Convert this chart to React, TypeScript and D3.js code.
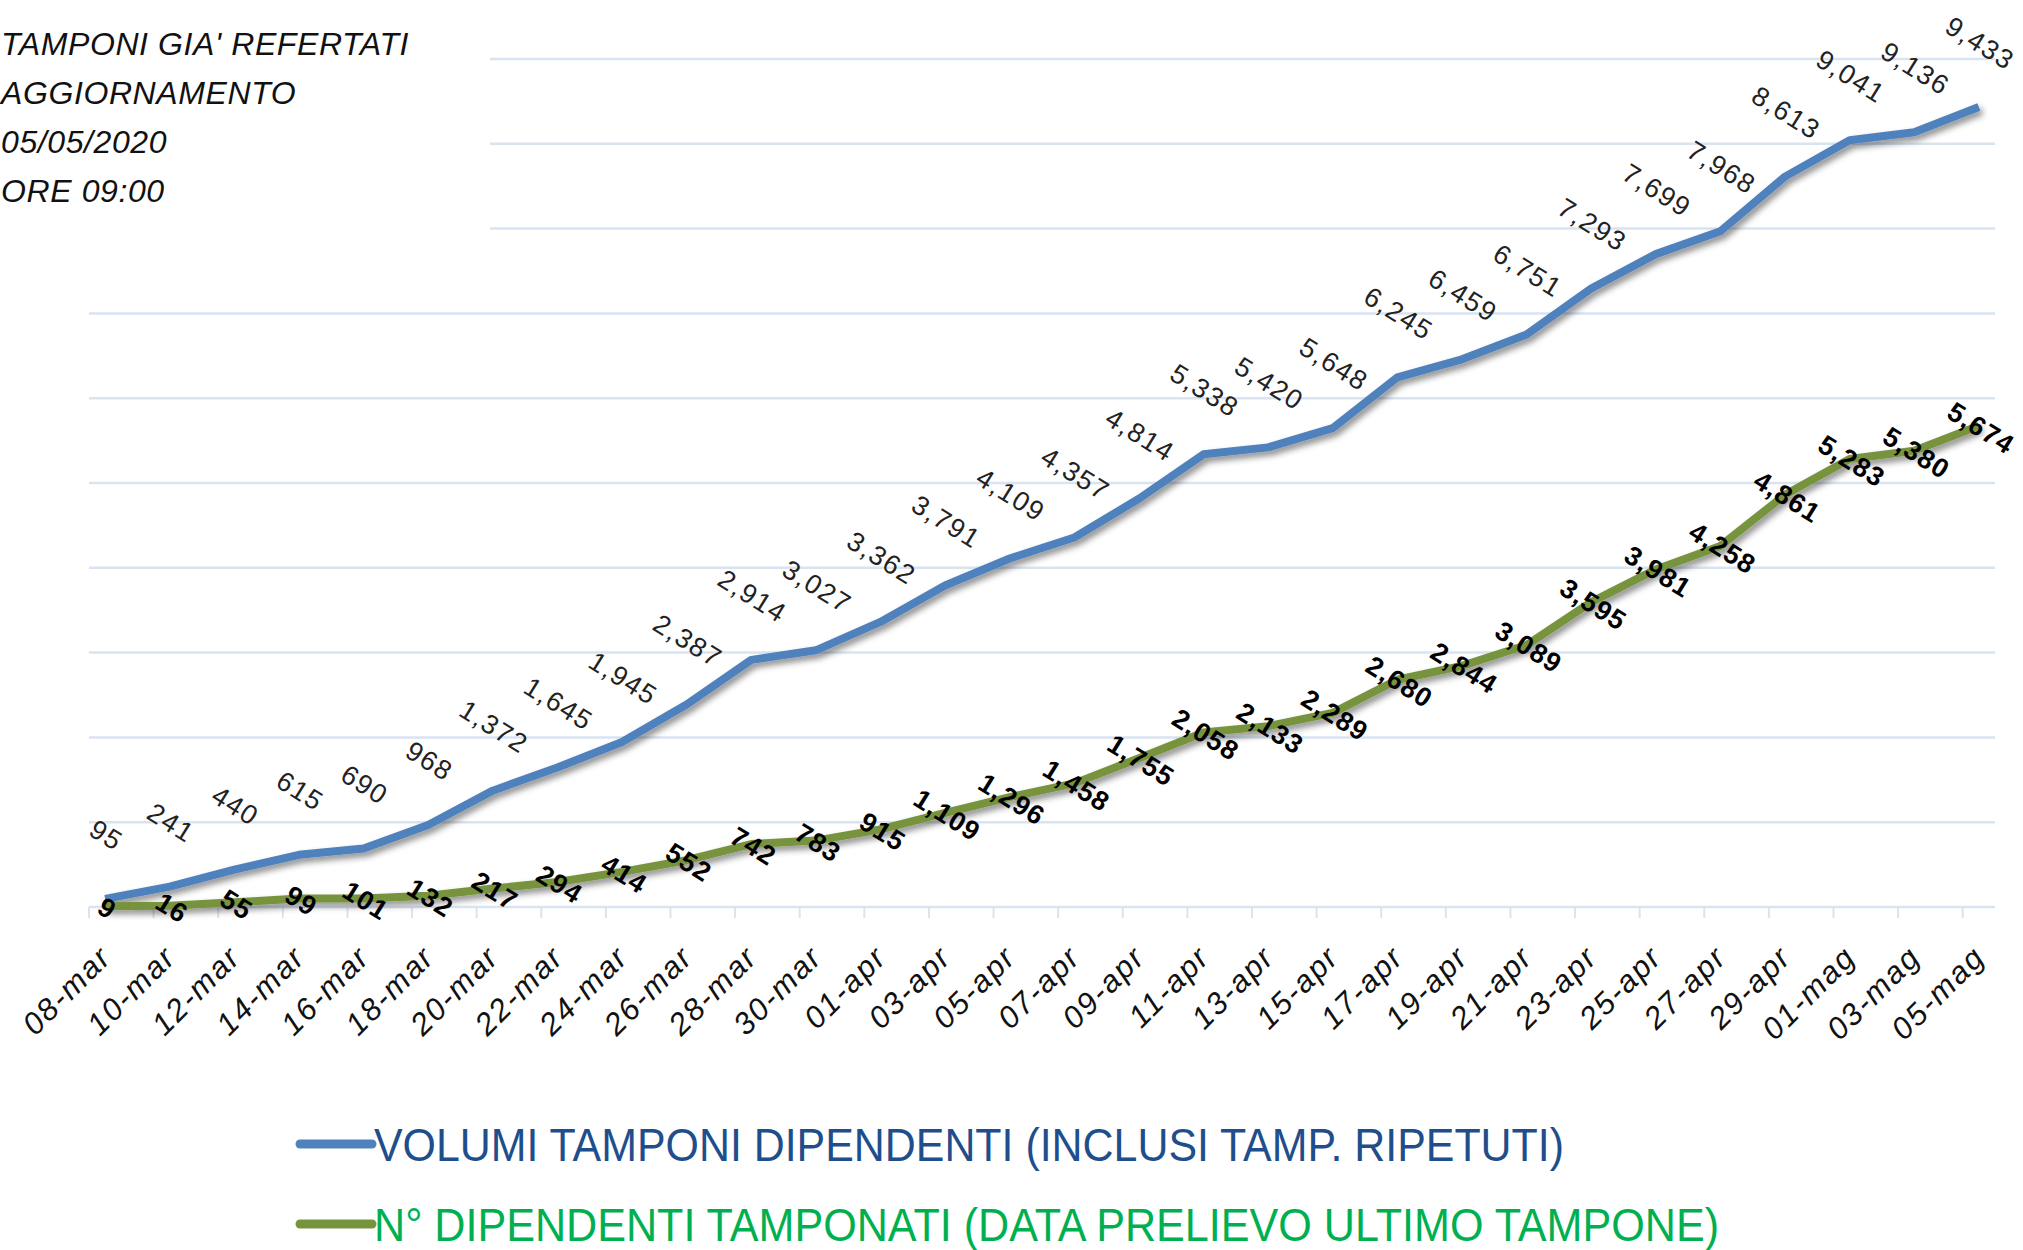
import React from "react";
import * as d3 from "d3";

// tick labels on the x axis (one every 2 days)
const dateLabels = [
  "08-mar", "10-mar", "12-mar", "14-mar", "16-mar", "18-mar", "20-mar", "22-mar",
  "24-mar", "26-mar", "28-mar", "30-mar", "01-apr", "03-apr", "05-apr", "07-apr",
  "09-apr", "11-apr", "13-apr", "15-apr", "17-apr", "19-apr", "21-apr", "23-apr",
  "25-apr", "27-apr", "29-apr", "01-mag", "03-mag", "05-mag",
];

// VOLUMI TAMPONI DIPENDENTI (INCLUSI TAMP. RIPETUTI)
const volumiTamponi = [
  95, 241, 440, 615, 690, 968, 1372, 1645, 1945, 2387, 2914, 3027, 3362, 3791, 4109,
  4357, 4814, 5338, 5420, 5648, 6245, 6459, 6751, 7293, 7699, 7968, 8613, 9041, 9136, 9433,
];

// N° DIPENDENTI TAMPONATI (DATA PRELIEVO ULTIMO TAMPONE)
const dipendentiTamponati = [
  9, 16, 55, 99, 101, 132, 217, 294, 414, 552, 742, 783, 915, 1109, 1296,
  1458, 1755, 2058, 2133, 2289, 2680, 2844, 3089, 3595, 3981, 4258, 4861, 5283, 5380, 5674,
];

const gridValues = [0, 1000, 2000, 3000, 4000, 5000, 6000, 7000, 8000, 9000, 10000];
const titleLines = ["TAMPONI GIA' REFERTATI", "AGGIORNAMENTO", "05/05/2020", "ORE 09:00"];
const legendLabels = [
  "VOLUMI TAMPONI DIPENDENTI (INCLUSI TAMP. RIPETUTI)",
  "N° DIPENDENTI TAMPONATI (DATA PRELIEVO ULTIMO TAMPONE)",
];

const W = 2023;
const H = 1250;
const BLUE = "#4f81bd";
const GREEN = "#77933c";
const GRID = "#d9e4f2";
const FONT = "'Liberation Sans', Arial, sans-serif";

const fmt = d3.format(",");

export default function App() {
  // daily slots from 08-mar to 05-mag, points in the middle of their day
  const x = d3.scaleLinear().domain([0, 59]).range([89, 1995]);
  const y = d3.scaleLinear().domain([0, 10000]).range([907, 59]);
  const px = (i: number) => x(i * 2 + 0.5);

  const line = d3
    .line<number>()
    .x((d, i) => px(i))
    .y((d) => y(d));

  return (
    <svg width={W} height={H} style={{ position: "absolute", left: 0, top: 0, background: "#fff" }}>
      <defs>
        <filter id="shadow" x="-5%" y="-5%" width="110%" height="120%">
          <feDropShadow dx="3" dy="4" stdDeviation="3" floodColor="#000" floodOpacity="0.45" />
        </filter>
      </defs>

      {/* gridlines */}
      {gridValues.map((v) => (
        <line key={v} x1={x(0)} x2={x(59)} y1={y(v)} y2={y(v)} stroke={GRID} strokeWidth={2.5} />
      ))}
      {/* tick marks */}
      {dateLabels.map((d, i) => (
        <line key={d} x1={x(i * 2)} x2={x(i * 2)} y1={y(0)} y2={y(0) + 11} stroke={GRID} strokeWidth={2} />
      ))}

      {/* title box covers the top left of the grid */}
      <rect x={0} y={0} width={490} height={262} fill="#fff" />
      {titleLines.map((t, i) => (
        <text key={t} x={1} y={55 + i * 49} fontFamily={FONT} fontStyle="italic" fontSize={32} letterSpacing={0.6} fill="#111">
          {t}
        </text>
      ))}

      {/* series */}
      <path d={line(volumiTamponi) || ""} fill="none" stroke={BLUE} strokeWidth={8} strokeLinejoin="round" filter="url(#shadow)" />
      <path d={line(dipendentiTamponati) || ""} fill="none" stroke={GREEN} strokeWidth={8} strokeLinejoin="round" filter="url(#shadow)" />

      {/* data labels */}
      {volumiTamponi.map((v, i) => (
        <text
          key={"b" + i}
          transform={`translate(${px(i)},${y(v) - 62}) rotate(32)`}
          textAnchor="middle"
          dominantBaseline="middle"
          fontFamily={FONT}
          fontSize={27}
          letterSpacing={1.5}
          fill="#222"
        >
          {fmt(v)}
        </text>
      ))}
      {dipendentiTamponati.map((v, i) => (
        <text
          key={"g" + i}
          transform={`translate(${px(i) + 1},${y(v) + 4}) rotate(32)`}
          textAnchor="middle"
          dominantBaseline="middle"
          fontFamily={FONT}
          fontWeight="bold"
          fontSize={27}
          letterSpacing={1}
          fill="#000"
        >
          {fmt(v)}
        </text>
      ))}

      {/* x axis labels */}
      {dateLabels.map((d, i) => (
        <text
          key={"x" + d}
          transform={`translate(${px(i) + 8},${y(0) + 52}) rotate(-45)`}
          textAnchor="end"
          fontFamily={FONT}
          fontStyle="italic"
          fontSize={31}
          letterSpacing={2}
          fill="#111"
        >
          {d}
        </text>
      ))}

      {/* legend */}
      {legendLabels.map((t, i) => (
        <g key={t} transform={`translate(300,${1144 + i * 80})`}>
          <line x1={0} x2={72} y1={0} y2={0} stroke={i === 0 ? BLUE : GREEN} strokeWidth={9} strokeLinecap="round" />
          <text
            x={74}
            y={17}
            fontFamily={FONT}
            fontSize={46}
            textLength={i === 0 ? 1190 : 1345}
            lengthAdjust="spacingAndGlyphs"
            fill={i === 0 ? "#1f4e8c" : "#00b050"}
          >
            {t}
          </text>
        </g>
      ))}
    </svg>
  );
}
